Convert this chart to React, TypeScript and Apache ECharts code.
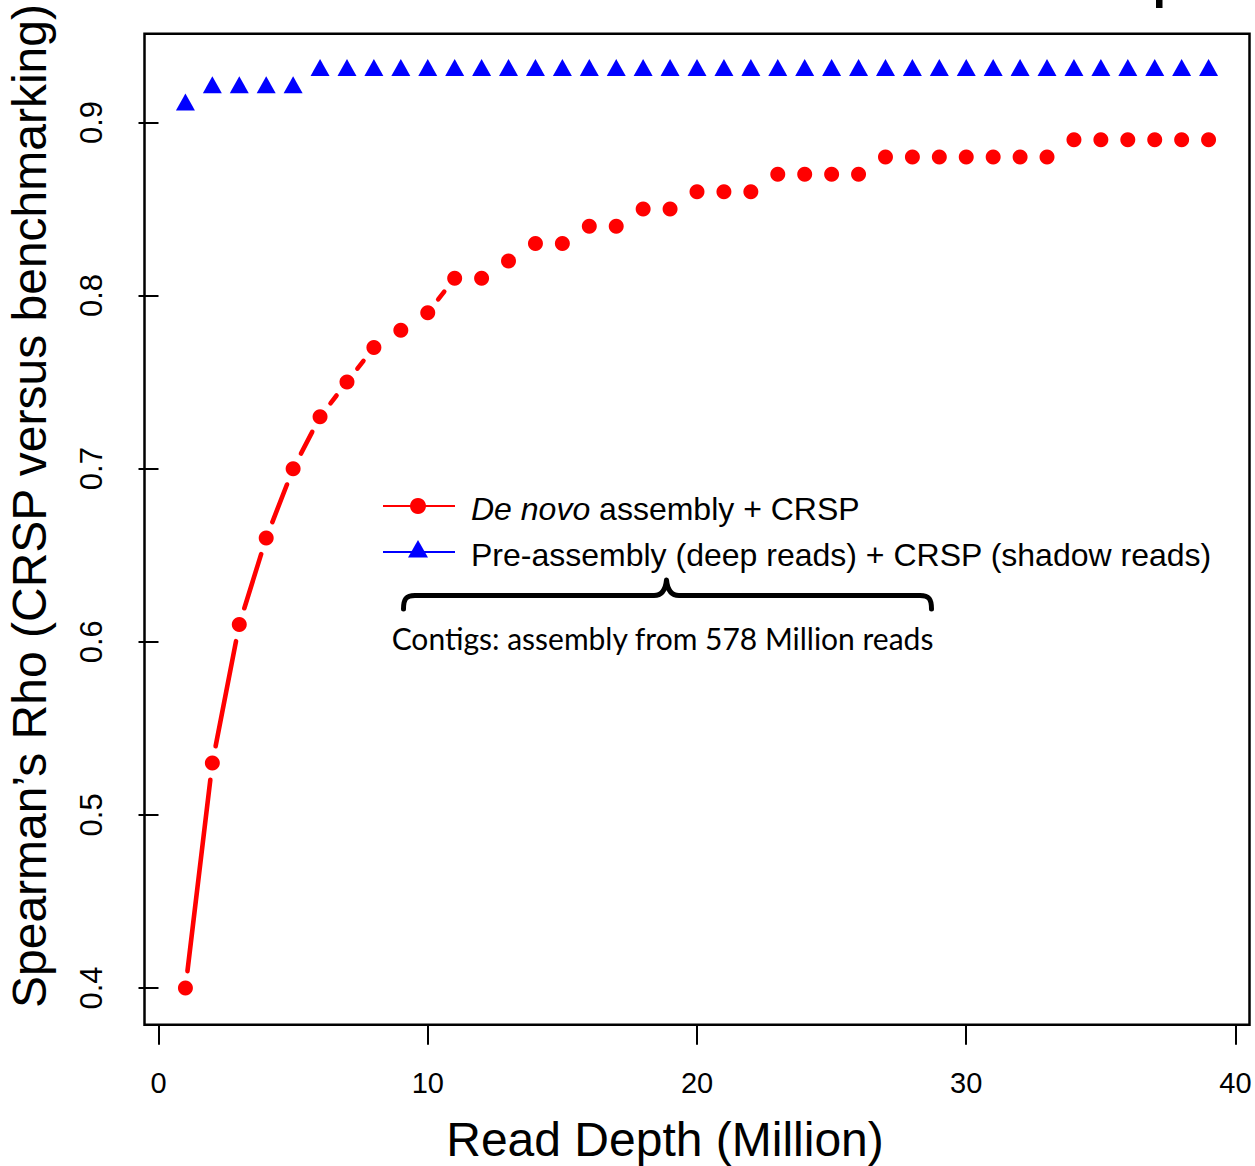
import React, { useEffect, useRef } from "react";
import * as echarts from "echarts";

// ---------- data ----------
const readDepth = [
  1, 2, 3, 4, 5, 6, 7, 8, 9, 10, 11, 12, 13, 14, 15, 16, 17, 18, 19, 20,
  21, 22, 23, 24, 25, 26, 27, 28, 29, 30, 31, 32, 33, 34, 35, 36, 37, 38, 39,
];
const deNovoRho = [
  0.40, 0.53, 0.61, 0.66, 0.70, 0.73, 0.75, 0.77, 0.78, 0.79, 0.81, 0.81,
  0.82, 0.83, 0.83, 0.84, 0.84, 0.85, 0.85, 0.86, 0.86, 0.86, 0.87, 0.87,
  0.87, 0.87, 0.88, 0.88, 0.88, 0.88, 0.88, 0.88, 0.88, 0.89, 0.89, 0.89,
  0.89, 0.89, 0.89,
];
const preAssemblyRho = [
  0.91, 0.92, 0.92, 0.92, 0.92, 0.93, 0.93, 0.93, 0.93, 0.93, 0.93, 0.93,
  0.93, 0.93, 0.93, 0.93, 0.93, 0.93, 0.93, 0.93, 0.93, 0.93, 0.93, 0.93,
  0.93, 0.93, 0.93, 0.93, 0.93, 0.93, 0.93, 0.93, 0.93, 0.93, 0.93, 0.93,
  0.93, 0.93, 0.93,
];
const xTicks = [0, 10, 20, 30, 40];
const yTicks = [0.4, 0.5, 0.6, 0.7, 0.8, 0.9];

const seriesNames = ["De novo assembly + CRSP", "Pre-assembly (deep reads) + CRSP (shadow reads)"];
const xTitle = "Read Depth (Million)";
const yTitle = "Spearman\u2019s Rho (CRSP versus benchmarking)";
const annotation = "Contigs: assembly from 578 Million reads";

// ---------- brace shape ----------
const braceD =
  "M403.5,609 C403.5,599 406,595.5 415,595.5 L654,595.5 C662,595.5 665.5,590 666.5,580 " +
  "C667.5,590 671,595.5 679,595.5 L920,595.5 C929,595.5 931.5,599 931.5,609";
echarts.graphic.registerShape("brace", echarts.graphic.extendPath(braceD, {}));

const FONT = "'Liberation Sans', Arial, Helvetica, sans-serif";
const RED = "#ff0000";
const BLUE = "#0000ff";

function pairs(xs: number[], ys: number[]) {
  const out: number[][] = [];
  for (let i = 0; i < xs.length - 1; i++) out.push([xs[i], ys[i], xs[i + 1], ys[i + 1]]);
  return out;
}

function segmentRenderer(color: string, gap: number, width: number) {
  return (params: any, api: any) => {
    const a = api.coord([api.value(0), api.value(1)]);
    const b = api.coord([api.value(2), api.value(3)]);
    const dx = b[0] - a[0];
    const dy = b[1] - a[1];
    const len = Math.hypot(dx, dy);
    if (len <= 2 * gap) return { type: "group", children: [] };
    const ux = dx / len;
    const uy = dy / len;
    return {
      type: "line",
      shape: { x1: a[0] + ux * gap, y1: a[1] + uy * gap, x2: b[0] - ux * gap, y2: b[1] - uy * gap },
      style: { stroke: color, lineWidth: width, lineCap: "round" },
    };
  };
}

export default function App() {
  const ref = useRef<HTMLDivElement>(null);
  useEffect(() => {
    if (!ref.current) return;
    const chart = echarts.init(ref.current, undefined, { renderer: "svg" });
    const option: any = {
      animation: false,
      backgroundColor: "#ffffff",
      grid: {
        left: 144.5,
        right: 5.5,
        top: 33.8,
        bottom: 141.3,
        show: true,
        borderColor: "#000",
        borderWidth: 2.5,
        backgroundColor: "transparent",
      },
      xAxis: {
        type: "value",
        min: -0.52,
        max: 40.52,
        axisLine: { show: false },
        splitLine: { show: false },
        axisTick: { show: true, customValues: xTicks, length: 20, inside: false, lineStyle: { color: "#000", width: 2 } },
        axisLabel: {
          customValues: xTicks,
          formatter: (v: number) => String(v),
          fontSize: 29,
          fontFamily: FONT,
          color: "#000",
          margin: 44,
        },
      },
      yAxis: {
        type: "value",
        min: 0.3788,
        max: 0.9512,
        axisLine: { show: false },
        splitLine: { show: false },
        axisTick: { show: true, customValues: yTicks, length: 20, inside: false, lineStyle: { color: "#000", width: 2 } },
        axisLabel: {
          customValues: yTicks,
          formatter: (v: number) => v.toFixed(1),
          rotate: 90,
          fontSize: 31,
          fontFamily: FONT,
          color: "#000",
          margin: 38,
        },
      },
      series: [
        {
          type: "custom",
          name: seriesNames[0] + " line",
          renderItem: segmentRenderer(RED, 17, 4.6),
          data: pairs(readDepth, deNovoRho),
          encode: { x: [0, 2], y: [1, 3] },
          silent: true,
          z: 2,
        },
        {
          type: "custom",
          name: seriesNames[1] + " line",
          renderItem: segmentRenderer(BLUE, 17, 4.6),
          data: pairs(readDepth, preAssemblyRho),
          encode: { x: [0, 2], y: [1, 3] },
          silent: true,
          z: 2,
        },
        {
          type: "scatter",
          name: seriesNames[0],
          data: readDepth.map((x, i) => [x, deNovoRho[i]]),
          symbol: "circle",
          symbolSize: 15,
          itemStyle: { color: RED, opacity: 1 },
          z: 3,
        },
        {
          type: "scatter",
          name: seriesNames[1],
          data: readDepth.map((x, i) => [x, preAssemblyRho[i]]),
          symbol: "triangle",
          symbolSize: [19, 17],
          symbolOffset: [0, -3],
          itemStyle: { color: BLUE, opacity: 1 },
          z: 3,
        },
      ],
      graphic: [
        // legend
        { type: "line", shape: { x1: 383, y1: 506, x2: 455, y2: 506 }, style: { stroke: RED, lineWidth: 2 } },
        { type: "circle", shape: { cx: 418, cy: 506, r: 8 }, style: { fill: RED } },
        { type: "line", shape: { x1: 383, y1: 552, x2: 455, y2: 552 }, style: { stroke: BLUE, lineWidth: 2 } },
        { type: "polygon", shape: { points: [[418, 540], [408, 557.5], [428, 557.5]] }, style: { fill: BLUE } },
        {
          type: "text",
          x: 471,
          y: 509,
          style: {
            text: "{i|De novo} assembly + CRSP",
            fontSize: 32,
            fontFamily: FONT,
            fill: "#000",
            verticalAlign: "middle",
            rich: { i: { fontStyle: "italic", fontSize: 32, fontFamily: FONT, fill: "#000" } },
          },
        },
        {
          type: "text",
          x: 471,
          y: 555,
          style: { text: seriesNames[1], fontSize: 32, fontFamily: FONT, fill: "#000", verticalAlign: "middle" },
        },
        // brace + annotation
        { type: "brace", style: { stroke: "#000", lineWidth: 5, fill: "none", lineCap: "round", lineJoin: "round" } },
        {
          type: "text",
          x: 662.5,
          y: 638,
          style: { text: annotation, fontSize: 30, fontFamily: "Lato, 'Open Sans', sans-serif", fill: "#000", align: "center", verticalAlign: "middle" },
        },
        // axis titles
        {
          type: "text",
          x: 665,
          y: 1139,
          style: { text: xTitle, fontSize: 48, fontFamily: FONT, fill: "#000", align: "center", verticalAlign: "middle" },
        },
        {
          type: "text",
          x: 29,
          y: 506,
          rotation: Math.PI / 2,
          style: { text: yTitle, fontSize: 48, fontFamily: FONT, fill: "#000", align: "center", verticalAlign: "middle" },
        },
        // cropped fragment of a panel letter at the top edge
        { type: "rect", shape: { x: 1156, y: 0, width: 6.5, height: 8 }, style: { fill: "#000" } },
      ],
    };
    chart.setOption(option);
    return () => chart.dispose();
  }, []);
  return (
    <div
      ref={ref}
      style={{ position: "absolute", left: 0, top: 0, width: 1255, height: 1166, background: "#fff" }}
    />
  );
}
